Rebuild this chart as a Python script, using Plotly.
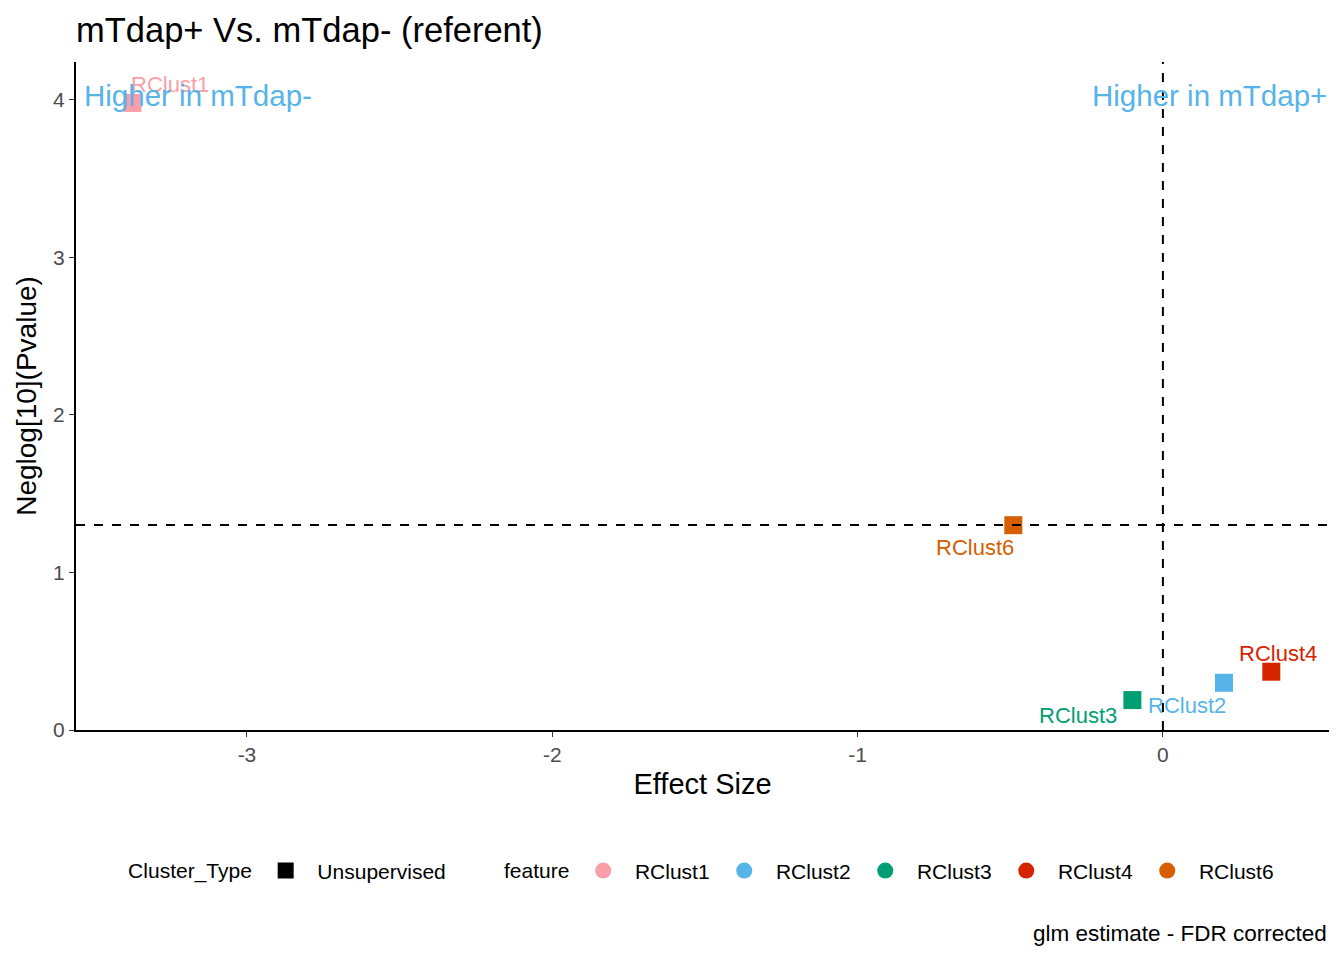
import plotly.graph_objects as go

# effect sizes and -log10 p values
features = ["RClust1", "RClust2", "RClust3", "RClust4", "RClust6"]
effect = [-3.375, 0.20, -0.10, 0.355, -0.49]
neglog_p = [3.98, 0.30, 0.19, 0.37, 1.30]
cluster_type = ["Unsupervised"]
x_ticks = [-3, -2, -1, 0]
x_tick_text = ["-3", "-2", "-1", "0"]
y_ticks = [0, 1, 2, 3, 4]

colors = {
    "RClust1": "#FA9FA9",
    "RClust2": "#56B4E9",
    "RClust3": "#009E73",
    "RClust4": "#D62300",
    "RClust6": "#D55E00",
}

# label offsets (px) like the repel labels in the original
label_shift = {
    "RClust1": (38, 18),
    "RClust2": (-37, -23),
    "RClust3": (-54, -15),
    "RClust4": (7, 18),
    "RClust6": (-38, -22),
}

font = "Liberation Sans, Arial, sans-serif"
sig_line = 1.30103  # -log10(0.05)
pad = "\u00a0\u00a0"  # push legend text a bit away from the key

fig = go.Figure()

for f, x, y in zip(features, effect, neglog_p):
    fig.add_trace(go.Scatter(
        x=[x], y=[y], mode="markers",
        marker=dict(symbol="square", size=18, color=colors[f]),
        showlegend=False, hoverinfo="text", text=f,
    ))
    dx, dy = label_shift[f]
    fig.add_annotation(
        x=x, y=y, text=f, showarrow=False, xshift=dx, yshift=dy,
        font=dict(family=font, size=22, color=colors[f]),
    )

# legend entries
for ct in cluster_type:
    fig.add_trace(go.Scatter(
        x=[None], y=[None], mode="markers", name=pad + ct,
        marker=dict(symbol="square", size=18, color="black"),
        legend="legend",
    ))
for f in features:
    fig.add_trace(go.Scatter(
        x=[None], y=[None], mode="markers", name=pad + f,
        marker=dict(symbol="circle", size=18, color=colors[f]),
        legend="legend2",
    ))

fig.add_hline(y=sig_line, line=dict(color="black", width=2, dash="dash"))
fig.add_vline(x=0, line=dict(color="black", width=2, dash="dash"))

fig.add_annotation(
    xref="paper", x=0, xanchor="left", xshift=6, y=4.03, yanchor="middle",
    text="Higher in mTdap-", showarrow=False,
    font=dict(family=font, size=29.5, color="#56B4E9"),
)
fig.add_annotation(
    xref="paper", x=1, xanchor="right", y=4.03, yanchor="middle",
    text="Higher in mTdap+", showarrow=False,
    font=dict(family=font, size=29.5, color="#56B4E9"),
)
fig.add_annotation(
    xref="paper", yref="paper", x=1, y=-0.304, xanchor="right", yanchor="middle",
    text="glm estimate - FDR corrected", showarrow=False,
    font=dict(family=font, size=22.5, color="black"),
)

legend_common = dict(
    orientation="h", yref="paper", y=-0.211, yanchor="middle",
    xanchor="left", bgcolor="rgba(0,0,0,0)",
    font=dict(family=font, size=21, color="black"),
    title_font=dict(family=font, size=21, color="black"),
    title_side="left", itemsizing="trace",
)

fig.update_layout(
    width=1344, height=960,
    margin=dict(l=68, r=23, t=54, b=238),
    paper_bgcolor="white", plot_bgcolor="white",
    title=dict(text="mTdap+ Vs. mTdap- (referent)", x=68 / 1344, xanchor="left",
               y=1 - 22 / 960, yanchor="middle",
               font=dict(family=font, size=34.5, color="black")),
    legend=dict(x=0.04, title_text="Cluster_Type ", entrywidth=160, **legend_common),
    legend2=dict(x=0.34, title_text="feature ", entrywidth=96, **legend_common),
)

fig.update_xaxes(
    range=[-3.56, 0.544], tickvals=x_ticks, ticktext=x_tick_text,
    showgrid=False, zeroline=False, showline=True, linecolor="black", linewidth=2,
    ticks="outside", ticklen=5, tickcolor="#333333",
    tickfont=dict(family=font, size=21, color="#4D4D4D"),
    title=dict(text="Effect Size", font=dict(family=font, size=29, color="black"), standoff=8),
)
fig.update_yaxes(
    range=[0, 4.24], tickvals=y_ticks,
    showgrid=False, zeroline=False, showline=True, linecolor="black", linewidth=2,
    ticks="outside", ticklen=5, tickcolor="#333333",
    tickfont=dict(family=font, size=21, color="#4D4D4D"),
    title=dict(text="Neglog[10](Pvalue)", font=dict(family=font, size=28, color="black"), standoff=8),
)

fig.write_html("out.html")
